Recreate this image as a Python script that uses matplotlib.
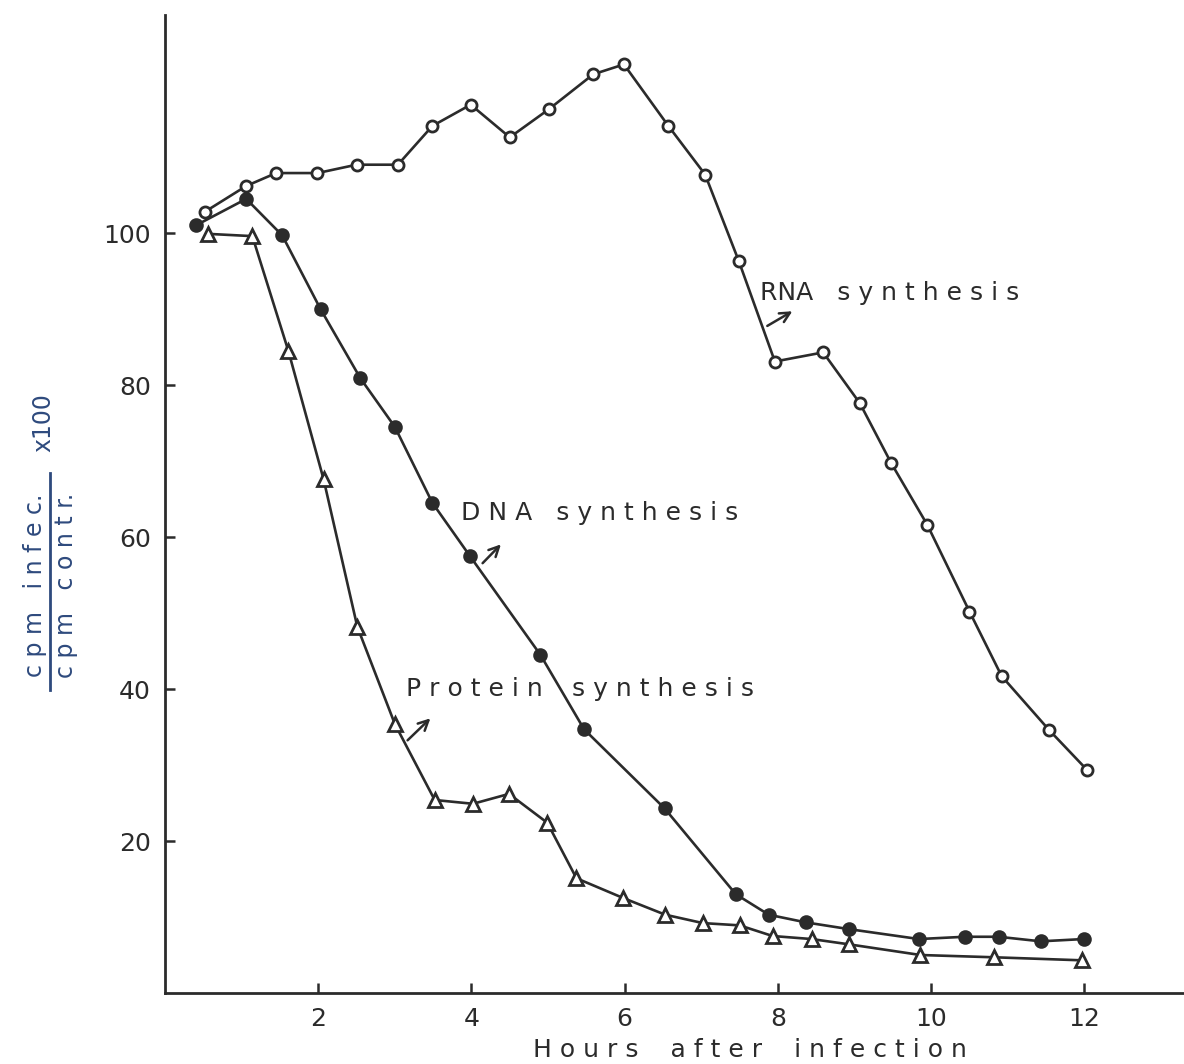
import matplotlib
matplotlib.use('Agg')
import matplotlib.pyplot as plt
from matplotlib.lines import Line2D

# RNA synthesis (open circles)
rna_x = [0.52, 1.06, 1.45, 1.99, 2.50, 3.04, 3.49, 3.99, 4.50, 5.01, 5.59, 5.99,
         6.57, 7.05, 7.49, 7.96, 8.59, 9.07, 9.48, 9.95, 10.50, 10.92, 11.54, 12.04]
rna_y = [102.8, 106.2, 107.9, 107.9, 109.0, 109.0, 114.1, 116.9, 112.6, 116.3, 120.9, 122.2,
         114.1, 107.7, 96.3, 83.1, 84.3, 77.6, 69.7, 61.6, 50.2, 41.7, 34.6, 29.3]

# DNA synthesis (filled circles)
dna_x = [0.40, 1.06, 1.53, 2.03, 2.55, 3.00, 3.49, 3.98, 4.90, 5.47, 6.52, 7.45,
         7.88, 8.36, 8.93, 9.84, 10.44, 10.88, 11.43, 11.99]
dna_y = [101.0, 104.5, 99.7, 90.0, 80.9, 74.5, 64.5, 57.5, 44.5, 34.7, 24.3, 13.0,
         10.3, 9.3, 8.4, 7.1, 7.4, 7.4, 6.8, 7.1]

# Protein synthesis (open triangles)
prot_x = [0.56, 1.14, 1.61, 2.07, 2.51, 3.00, 3.52, 4.02, 4.49, 4.99, 5.37, 5.98,
          6.53, 7.02, 7.50, 7.93, 8.44, 8.93, 9.86, 10.82, 11.97]
prot_y = [99.9, 99.6, 84.5, 67.6, 48.2, 35.4, 25.4, 24.9, 26.2, 22.4, 15.1, 12.5,
          10.3, 9.2, 8.9, 7.5, 7.1, 6.4, 5.0, 4.7, 4.3]

x_ticks = [2, 4, 6, 8, 10, 12]
y_ticks = [20, 40, 60, 80, 100]

ink = '#2b2b2b'
blue = '#2e4a7d'

fig = plt.figure(figsize=(11.84, 10.64), dpi=100)
ax = fig.add_axes([165/1184, 71/1064, 1 - 165/1184, (1064 - 71 - 15)/1064])

ax.plot(rna_x, rna_y, color=ink, lw=1.9, marker='o', ms=8, mfc='white',
        mec=ink, mew=2.0, zorder=3)
ax.plot(dna_x, dna_y, color=ink, lw=1.9, marker='o', ms=9, mfc=ink,
        mec=ink, mew=1.5, zorder=3)
ax.plot(prot_x, prot_y, color=ink, lw=1.9, marker='^', ms=9.5, mfc='white',
        mec=ink, mew=2.0, zorder=3)

ax.set_xlim(0, 13.3)
ax.set_ylim(0, 128.7)
ax.set_xticks(x_ticks)
ax.set_yticks(y_ticks)
ax.tick_params(direction='in', length=7, width=1.8, colors=ink, labelsize=18, pad=10)
for s in ['top', 'right']:
    ax.spines[s].set_visible(False)
for s in ['left', 'bottom']:
    ax.spines[s].set_linewidth(2.0)
    ax.spines[s].set_color(ink)

ax.set_xlabel('H o u r s    a f t e r    i n f e c t i o n', fontsize=18, color=ink)
ax.xaxis.set_label_coords(0.574, -0.046)

# curve labels with arrows
arrow = dict(arrowstyle='->', color=ink, lw=1.8, mutation_scale=18)
ax.text(7.76, 92.1, 'RNA   s y n t h e s i s', fontsize=18, color=ink, va='center')
ax.annotate('', xy=(8.22, 89.9), xytext=(7.83, 87.6), arrowprops=arrow)
ax.text(3.86, 63.2, 'D N A   s y n t h e s i s', fontsize=18, color=ink, va='center')
ax.annotate('', xy=(4.41, 59.3), xytext=(4.12, 56.3), arrowprops=arrow)
ax.text(3.14, 40.0, 'P r o t e i n', fontsize=18, color=ink, va='center')
ax.text(5.31, 40.0, 's y n t h e s i s', fontsize=18, color=ink, va='center')
ax.annotate('', xy=(3.49, 36.4), xytext=(3.14, 33.0), arrowprops=arrow)

# y label as a rotated fraction
fig.text(35/1184, 1 - 585/1064, 'c p m   i n f e c.', rotation=90, fontsize=17,
         color=blue, ha='center', va='center')
fig.text(66/1184, 1 - 585/1064, 'c p m   c o n t r.', rotation=90, fontsize=17,
         color=blue, ha='center', va='center')
fig.add_artist(Line2D([50/1184, 50/1184], [1 - 690/1064, 1 - 473/1064],
                      color=blue, lw=2.0))
fig.text(43/1184, 1 - 423/1064, 'x100', rotation=90, fontsize=17,
         color=blue, ha='center', va='center')

fig.savefig('out.png', dpi=100, facecolor='white')
